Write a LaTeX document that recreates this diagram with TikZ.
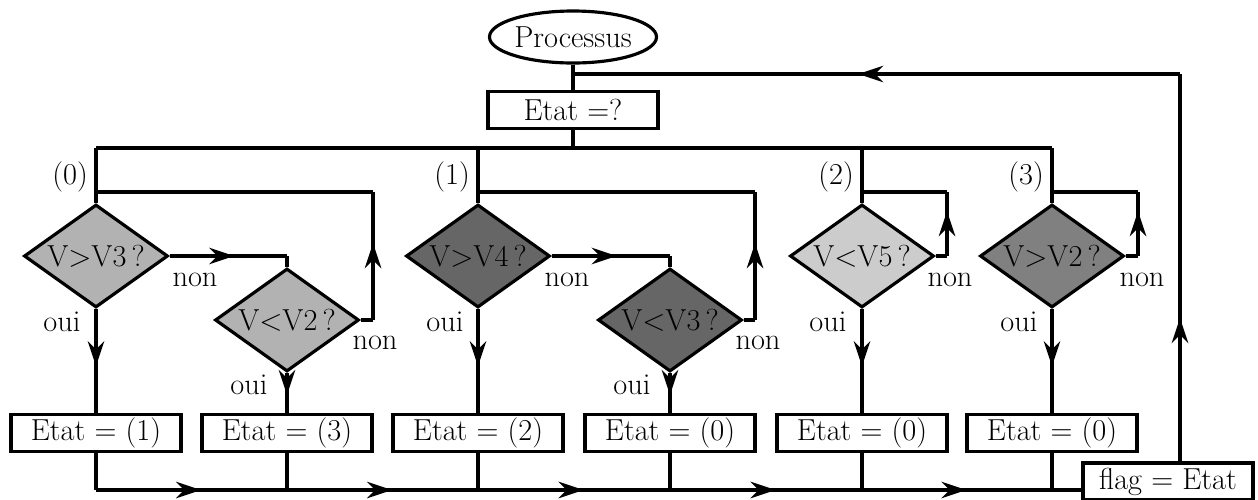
\documentclass[tikz,border=0pt]{standalone}
\usetikzlibrary{shapes.geometric,arrows.meta,decorations.markings}

\begin{document}
\begin{tikzpicture}[line width=1.8pt,font=\LARGE,
  etat/.style={draw,rectangle,minimum width=3.4cm,minimum height=0.74cm,inner sep=0pt,fill=white},
  test/.style={draw,diamond,minimum width=2.88cm,minimum height=2.06cm,inner sep=0pt},
  lbl/.style={inner sep=0pt},
  fleche/.style={postaction={decorate},decoration={markings,
    mark=at position #1 with {\arrow{Stealth[length=5mm,width=3.3mm]}}}},
  fleche/.default=0.55]
\useasboundingbox (0,0) rectangle (25.16,-9.98);

\node[draw,ellipse,minimum width=3.34cm,minimum height=1.04cm,inner sep=0pt] (proc) at (11.46,-0.74) {\makebox[0pt]{Processus}};
\node[etat] (q) at (11.46,-2.2) {Etat $=?$};

% les quatre etats
\node[test,fill=black!30] (t0) at (1.92,-5.12) {\makebox[0pt]{V$>$V3\,?}};
\node[test,fill=black!30] (t0b) at (5.74,-6.4) {\makebox[0pt]{V$<$V2\,?}};
\node[test,fill=black!60] (t1) at (9.56,-5.12) {\makebox[0pt]{V$>$V4\,?}};
\node[test,fill=black!60] (t1b) at (13.4,-6.4) {\makebox[0pt]{V$<$V3\,?}};
\node[test,fill=black!20] (t2) at (17.24,-5.12) {\makebox[0pt]{V$<$V5\,?}};
\node[test,fill=black!50] (t3) at (21.04,-5.12) {\makebox[0pt]{V$>$V2\,?}};

\node[etat] (e0) at (1.92,-8.66) {Etat $=$ (1)};
\node[etat] (e0b) at (5.74,-8.66) {Etat $=$ (3)};
\node[etat] (e1) at (9.56,-8.66) {Etat $=$ (2)};
\node[etat] (e1b) at (13.4,-8.66) {Etat $=$ (0)};
\node[etat] (e2) at (17.24,-8.66) {Etat $=$ (0)};
\node[etat] (e3) at (21.04,-8.66) {Etat $=$ (0)};
\node[etat] (flag) at (23.36,-9.63) {flag $=$ Etat};

\node[lbl,anchor=east] (c0) at (1.79,-3.54) {(0)};
\node[lbl,anchor=east] (c1) at (9.43,-3.54) {(1)};
\node[lbl,anchor=east] (c2) at (17.11,-3.54) {(2)};
\node[lbl,anchor=east] (c3) at (20.91,-3.54) {(3)};

\node[lbl] (n0) at (3.9,-5.6) {non};
\node[lbl] (n0b) at (7.5,-6.86) {non};
\node[lbl] (n1) at (11.34,-5.6) {non};
\node[lbl] (n1b) at (15.16,-6.86) {non};
\node[lbl] (n2) at (19.0,-5.6) {non};
\node[lbl] (n3) at (22.84,-5.6) {non};
\node[lbl] (o0) at (1.24,-6.44) {oui};
\node[lbl] (o0b) at (4.98,-7.7) {oui};
\node[lbl] (o1) at (8.9,-6.44) {oui};
\node[lbl] (o1b) at (12.64,-7.7) {oui};
\node[lbl] (o2) at (16.56,-6.44) {oui};
\node[lbl] (o3) at (20.38,-6.44) {oui};

\coordinate (haut) at (11.46,-1.48);
\coordinate (bus) at (0,-2.96);
\coordinate (bas) at (0,-9.8);
\coordinate (ret) at (23.6,0);
\coordinate (l0) at (7.46,-3.84);
\coordinate (l1) at (15.1,-3.84);
\coordinate (l2) at (18.94,-3.84);
\coordinate (l3) at (22.76,-3.84);

% haut
\draw (proc) -- (q);
\draw (q) -- (q.south |- bus);
\draw (t0.north |- bus) -- (t3.north |- bus);
\foreach \t in {t0,t1,t2,t3}
  \draw (\t.north |- bus) -- (\t);

% boucles non
\draw (t0b.east) -- (l0 |- t0b.east);
\draw[fleche=0.6] (l0 |- t0b.east) -- (l0);
\draw (l0) -- (l0 -| t0);
\draw (t1b.east) -- (l1 |- t1b.east);
\draw[fleche=0.6] (l1 |- t1b.east) -- (l1);
\draw (l1) -- (l1 -| t1);
\draw (t2.east) -- (l2 |- t2.east);
\draw[fleche=0.7] (l2 |- t2.east) -- (l2);
\draw (l2) -- (l2 -| t2);
\draw (t3.east) -- (l3 |- t3.east);
\draw[fleche=0.7] (l3 |- t3.east) -- (l3);
\draw (l3) -- (l3 -| t3);

\draw[fleche] (t0.east) -- (t0.east -| t0b);
\draw (t0.east -| t0b) -- (t0b);
\draw[fleche] (t1.east) -- (t1.east -| t1b);
\draw (t1.east -| t1b) -- (t1b);

% oui
\draw[fleche] (t0) -- (e0);
\draw[fleche] (t0b) -- (e0b);
\draw[fleche] (t1) -- (e1);
\draw[fleche] (t1b) -- (e1b);
\draw[fleche] (t2) -- (e2);
\draw[fleche] (t3) -- (e3);

% bas
\foreach \e in {e0,e0b,e1,e1b,e2,e3}
  \draw (\e) -- (\e |- bas);
\draw[fleche] (e0 |- bas) -- (e0b |- bas);
\draw[fleche] (e0b |- bas) -- (e1 |- bas);
\draw[fleche] (e1 |- bas) -- (e1b |- bas);
\draw[fleche] (e1b |- bas) -- (e2 |- bas);
\draw[fleche] (e2 |- bas) -- (e3 |- bas);
\draw (e3 |- bas) -- (flag.west |- bas);

% retour
\draw[fleche=0.37] (ret |- flag.north) -- (ret |- haut);
\draw[fleche=0.53] (ret |- haut) -- (haut);
\end{tikzpicture}
\end{document}
